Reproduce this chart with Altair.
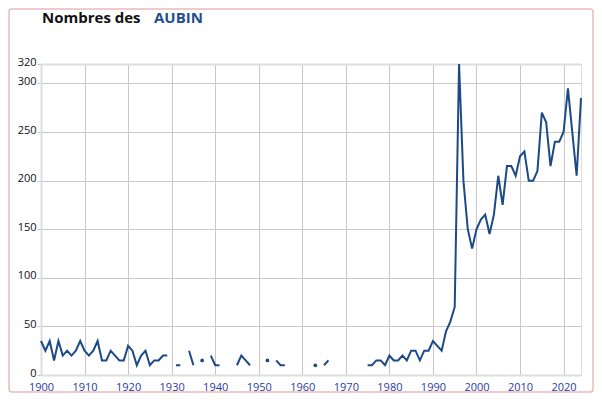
import altair as alt
import pandas as pd

years = list(range(1900, 2025))
values = [
    35, 25, 35, 15, 35, 20, 25, 20, 25, 35,   # 1900-1909
    25, 20, 25, 35, 15, 15, 25, 20, 15, 15,   # 1910-1919
    30, 25, 10, 20, 25, 10, 15, 15, 20, 20,   # 1920-1929
    None, 10, 10, None, 25, 10, None, 15, None, 20,  # 1930-1939
    10, 10, None, None, None, 10, 20, 15, 10, None,  # 1940-1949
    None, None, 15, None, 15, 10, 10, None, None, None,  # 1950-1959
    None, None, None, 10, None, 10, 15, None, None, None,  # 1960-1969
    None, None, None, None, None, 10, 10, 15, 15, 10,  # 1970-1979
    20, 15, 15, 20, 15, 25, 25, 15, 25, 25,   # 1980-1989
    35, 30, 25, 45, 55, 70, 320, 200, 150, 130,  # 1990-1999
    150, 160, 165, 145, 165, 205, 175, 215, 215, 205,  # 2000-2009
    225, 230, 200, 200, 210, 270, 260, 215, 240, 240,  # 2010-2019
    250, 295, 250, 205, 285,  # 2020-2024
]
title_parts = ["Nombres des", "AUBIN"]
title_colors = ["#111111", "#1f4e8c"]
y_ticks = [0, 50, 100, 150, 200, 250, 300, 320]
x_ticks = list(range(1900, 2030, 10))

df = pd.DataFrame({"year": years, "n": values})
# isolated points (no neighbours) drawn as dots
prev = df["n"].shift(1)
nxt = df["n"].shift(-1)
df_iso = df[df["n"].notna() & prev.isna() & nxt.isna()]

LINE = "#1c4a86"
x_enc = alt.X("year:Q", scale=alt.Scale(domain=[1900, 2024], nice=False, zero=False),
              axis=alt.Axis(values=x_ticks, format="d", title=None, labelColor="#2b3aa6",
                            labelFontSize=11, labelPadding=6, ticks=False, labelFlush=False,
                            gridColor="#c8c8c8", domainColor="#dddddd", domainWidth=2,
                            labelFont="Open Sans"))
y_enc = alt.Y("n:Q", scale=alt.Scale(domain=[0, 320], nice=False),
              axis=alt.Axis(values=y_ticks, title=None, labelColor="#111111",
                            labelFontSize=11, tickSize=4, tickColor="#c8c8c8",
                            labelPadding=1, labelFont="Open Sans", labelFlush=False,
                            labelOffset=-2,
                            gridColor=alt.condition("datum.value == 320", alt.value("#dddddd"), alt.value("#c8c8c8")),
                            gridWidth=alt.condition("datum.value == 320", alt.value(2), alt.value(1)),
                            domainColor="#dddddd", domainWidth=2))

line = alt.Chart(df).mark_line(color=LINE, strokeWidth=2, invalid="break-paths-show-domains").encode(
    x=x_enc, y=y_enc)
dots = alt.Chart(df_iso).mark_point(filled=True, color=LINE, size=14, opacity=1).encode(
    x="year:Q", y="n:Q")

tdf = pd.DataFrame({"t": title_parts, "c": title_colors, "px": [1, 113]})
title = alt.Chart(tdf).mark_text(align="left", baseline="alphabetic", font="Open Sans",
                                 fontSize=15, fontWeight="bold").encode(
    text="t:N", x=alt.X("px:Q", scale=None), y=alt.value(-41),
    color=alt.Color("c:N", scale=None))

border = alt.Chart(pd.DataFrame({"a": [0]})).mark_rect(
    fill=None, stroke="#e8bcbc", strokeWidth=1.5, cornerRadius=3).encode(
    x=alt.value(-32), x2=alt.value(552), y=alt.value(-55), y2=alt.value(328))

chart = alt.layer(border, line, dots, title).properties(
    width=540, height=311,
    autosize=alt.AutoSizeParams(type="none"),
    padding={"left": 33, "top": 56, "right": 13, "bottom": 18},
).configure_view(stroke=None).configure(background="white")

chart.save("out.html", embed_options={"renderer": "svg", "actions": False})
